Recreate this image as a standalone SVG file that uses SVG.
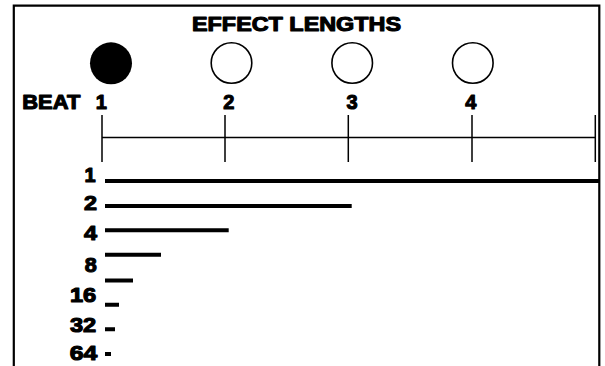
<svg xmlns="http://www.w3.org/2000/svg" width="605" height="366" viewBox="0 0 605 366">
<style>
.t{font-family:"Liberation Sans",Arial,sans-serif;font-weight:bold;font-size:20px;fill:#000;stroke:#000;stroke-width:1.1px;stroke-linejoin:round}
.bar{stroke:#000;stroke-width:4;fill:none}
.tick{stroke:#000;stroke-width:1.5;fill:none}
.ring{fill:#fff;stroke:#000;stroke-width:1.6}
</style>
<rect width="605" height="366" fill="#fff"/>
<g id="frame">
<path d="M13.8,366 V5.7 H599.3 V366" fill="none" stroke="#000" stroke-width="2.2"/>
</g>
<g id="title"><text class="t" x="192" y="30.6" textLength="209" lengthAdjust="spacingAndGlyphs">EFFECT LENGTHS</text></g>
<g id="beats">
<circle cx="111" cy="63.3" r="21" fill="#000"/>
<circle class="ring" cx="231.5" cy="63" r="20.3"/>
<circle class="ring" cx="352.2" cy="63" r="20.3"/>
<circle class="ring" cx="472.8" cy="63" r="20.3"/>
<text class="t" x="22.3" y="108.9" textLength="58" lengthAdjust="spacingAndGlyphs">BEAT</text>
<text class="t" x="101.3" y="108.9" text-anchor="middle">1</text>
<text class="t" x="228.7" y="108.9" text-anchor="middle">2</text>
<text class="t" x="352" y="108.9" text-anchor="middle">3</text>
<text class="t" x="470.8" y="108.9" text-anchor="middle">4</text>
</g>
<g id="connectors">
<path class="tick" d="M102,137.5 H595.3 M102,115 V162 M225,115 V162 M348.3,115 V162 M472,115 V162 M595.3,115 V162"/>
<path class="bar" d="M105,181 H599 M105,206 H351.7 M105,230.3 H228.7 M105,254.7 H161 M105,280.5 H133 M105,304.7 H119 M105,329.3 H115 M105,354 H111"/>
</g>
<g id="lengths">
<text class="t" x="95.5" y="182.3" text-anchor="end">1</text>
<text class="t" x="97" y="210.3" text-anchor="end" textLength="13" lengthAdjust="spacingAndGlyphs">2</text>
<text class="t" x="97" y="240.3" text-anchor="end" textLength="13" lengthAdjust="spacingAndGlyphs">4</text>
<text class="t" x="96.8" y="271.6" text-anchor="end" textLength="12" lengthAdjust="spacingAndGlyphs">8</text>
<text class="t" x="96.2" y="302.3" text-anchor="end" textLength="26.3" lengthAdjust="spacingAndGlyphs">16</text>
<text class="t" x="96.2" y="332.3" text-anchor="end" textLength="26.3" lengthAdjust="spacingAndGlyphs">32</text>
<text class="t" x="97.2" y="360.3" text-anchor="end" textLength="27.5" lengthAdjust="spacingAndGlyphs">64</text>
</g>
</svg>
